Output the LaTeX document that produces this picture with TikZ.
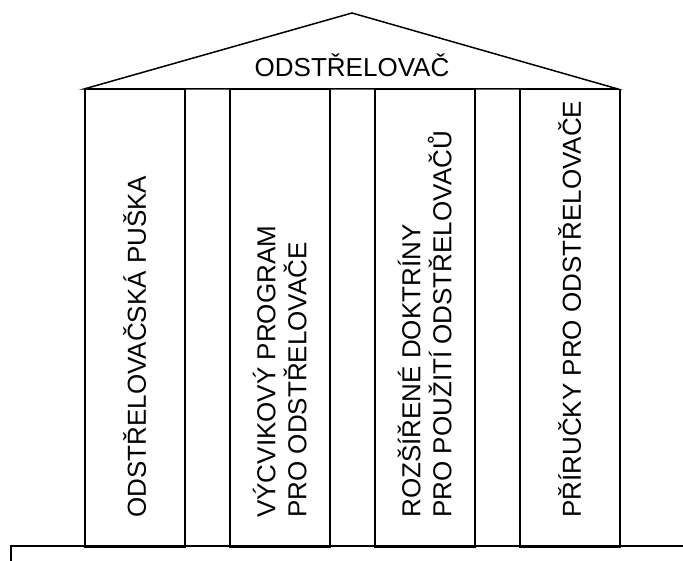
\documentclass[tikz,border=0pt]{standalone}
\usepackage{fontspec}
\setmainfont{Liberation Sans}
\usetikzlibrary{positioning}

\begin{document}
\begin{tikzpicture}[
  x=1pt, y=-1pt,
  line width=1.5pt,
  font=\fontsize{26}{31}\selectfont,
  pillar/.style={
    draw,
    minimum width=100pt,
    minimum height=457pt,
    inner sep=0pt,
    anchor=north west
  },
  caption/.style={rotate=90, anchor=west, align=left, inner sep=0pt}
]
\useasboundingbox (0,0) rectangle (683,561);

% roof
\coordinate (eaveL) at (84,89);
\coordinate (apex) at (352,13);
\coordinate (eaveR) at (618,89);
\draw[line join=miter] (eaveL) -- (apex) -- (eaveR) -- cycle;
\node[anchor=base] (title) at (352,77) {ODSTŘELOVAČ};

% pillars
\node[pillar] (rifle) at (84,89) {};
\node[pillar] (training) at (229,89) {};
\node[pillar] (doctrine) at (374,89) {};
\node[pillar] (manuals) at (519,89) {};

\node[caption] (rifletext) at ([yshift=29pt]rifle.south) {ODSTŘELOVAČSKÁ PUŠKA};
\node[caption] (trainingtext) at ([yshift=29pt]training.south) {VÝCVIKOVÝ PROGRAM\\PRO ODSTŘELOVAČE};
\node[caption] (doctrinetext) at ([yshift=29pt]doctrine.south) {ROZŠÍŘENÉ DOKTRÍNY\\PRO POUŽITÍ ODSTŘELOVAČŮ};
\node[caption] (manualstext) at ([yshift=29pt]manuals.south) {PŘÍRUČKY PRO ODSTŘELOVAČE};

% base
\coordinate (footL) at (11,561);
\coordinate (cornerL) at (11,546);
\coordinate (footR) at (683,546);
\draw (footL) -- (cornerL) -- (footR);

\end{tikzpicture}
\end{document}
